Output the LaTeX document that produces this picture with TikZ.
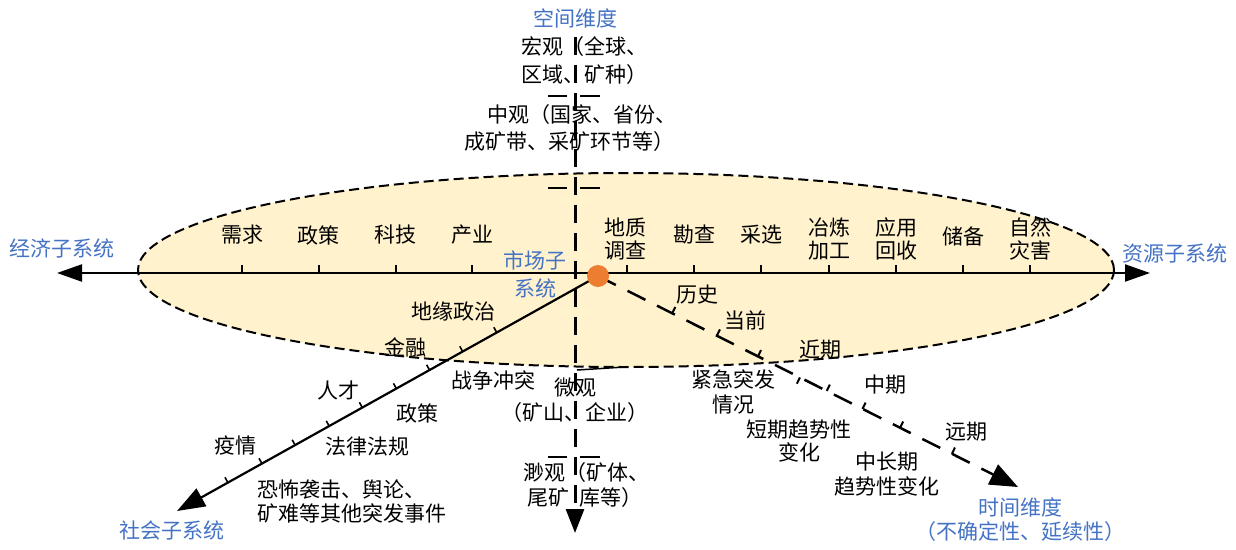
\documentclass[tikz,border=0pt]{standalone}
\usepackage{fontspec}
\setmainfont{Noto Sans CJK SC}
\usetikzlibrary{arrows.meta}
\definecolor{myblue}{HTML}{4472C4}
\definecolor{myorange}{HTML}{ED7D31}
\definecolor{mybeige}{HTML}{FFF2CC}
\begin{document}
\begin{tikzpicture}[x=1pt,y=-1pt,
  lbl/.style={font=\fontsize{21}{23}\selectfont, inner sep=0pt, align=center},
  lblw/.style={lbl, anchor=west},
  blbl/.style={lbl, text=myblue},
  axisline/.style={line width=2.2pt, draw=black},
  vaxis/.style={line width=3pt, dash pattern=on 18pt off 10pt},
  taxis/.style={line width=2.5pt, dash pattern=on 20pt off 13pt},
  ellborder/.style={line width=2pt, dash pattern=on 10pt off 5pt, fill=mybeige, draw=black},
  tickmark/.style={line width=1.6pt},
]
\useasboundingbox (0,0) rectangle (1236,549);

% ellipse
\path[ellborder] (626,270) ellipse [x radius=488pt, y radius=97pt];
\draw[line width=1.5pt] (577,370) -- (625,367);

% coordinates
\coordinate (o) at (598,276);
\coordinate (hL) at (57,273);
\coordinate (hR) at (1150,273);
\coordinate (vTop) at (575,37);
\coordinate (vBot) at (575,533);
\coordinate (sTip) at (177,511);
\coordinate (tTip) at (1018,487);

% horizontal axis
\draw[axisline, {Triangle[length=25pt,width=17pt]}-{Triangle[length=25pt,width=17pt]}] (hL) -- (hR);
\foreach \x in {242,319,396,472,627,694,761,829,896,963,1030}
  \draw[tickmark] (\x,273) -- (\x,265);

% vertical axis
\draw[vaxis, -{Triangle[length=24pt,width=18pt]}] (vTop) -- (vBot);
\foreach \y in {96,188,457} {
  \draw[line width=2pt] (548,\y) -- (567,\y);
  \draw[line width=2pt] (580,\y) -- (600,\y);
}

% social axis (solid)
\draw[axisline, -{Triangle[length=28pt,width=20pt]}] (o) -- (sTip);
\foreach \s in {116,155,193,231,270,308,347,385,424}
  \draw[tickmark] ({598-0.873*\s},{276+0.487*\s}) -- ++(-2.9,-5.2);

% time axis (dashed)
\draw[taxis, -{Triangle[length=28pt,width=22pt]}] (o) -- (tTip);
\foreach \s/\d in {83/1,133/1,179/1,226/-1,256/1,296/1,338/1,396/1}
  \draw[line width=2pt] ({598+0.8936*\s},{276+0.449*\s}) -- ++({3.1*\d},{-6.3*\d});

% centre dot
\node[circle, fill=myorange, minimum size=22pt, inner sep=0pt] (dot) at (o) {};

% blue labels
\node[blbl] (kj) at (575,18) {空间维度};
\node[blbl] (jj) at (62,248) {经济子系统};
\node[blbl] (zy) at (1175,253) {资源子系统};
\node[blbl, font=\fontsize{21}{28}\selectfont] (sc) at (535,274) {市场子\\系统};
\node[blbl] (sh) at (172,530) {社会子系统};
\node[blbl, font=\fontsize{21}{24}\selectfont] (sj) at (1020,520) {时间维度\\（不确定性、延续性）};

% spatial scale labels
\node[lblw] (mac1) at (521,47) {宏观（全球、};
\node[lblw] (mac2) at (521,75) {区域、矿种）};
\node[lblw] (mes1) at (487,115) {中观（国家、省份、};
\node[lblw] (mes2) at (464,142) {成矿带、采矿环节等）};
\node[lbl, font=\fontsize{21}{25}\selectfont] (mic) at (575,400) {微观\\（矿山、企业）};
\node[lblw] (nan1) at (523,473) {渺观（矿体、};
\node[lblw] (nan2) at (527,498) {尾矿\hspace{10pt}库等）};

% economic labels
\node[lbl] (e1) at (242,235) {需求};
\node[lbl] (e2) at (318,235) {政策};
\node[lbl] (e3) at (395,235) {科技};
\node[lbl] (e4) at (472,235) {产业};

% resource labels
\node[lbl] (r1) at (625,239) {地质\\调查};
\node[lbl] (r2) at (694,235) {勘查};
\node[lbl] (r3) at (761,235) {采选};
\node[lbl] (r4) at (829,239) {冶炼\\加工};
\node[lbl] (r5) at (896,239) {应用\\回收};
\node[lbl] (r6) at (963,236) {储备};
\node[lbl] (r7) at (1030,239) {自然\\灾害};

% social labels
\node[lbl] (s1) at (453,312) {地缘政治};
\node[lbl] (s2) at (405,347) {金融};
\node[lbl] (s3) at (493,380) {战争冲突};
\node[lbl] (s4) at (338,390) {人才};
\node[lbl] (s5) at (417,413) {政策};
\node[lbl] (s6) at (235,445) {疫情};
\node[lbl] (s7) at (367,447) {法律法规};
\node[lblw] (s8a) at (257,490) {恐怖袭击、舆论、};
\node[lblw] (s8b) at (257,513) {矿难等其他突发事件};

% time labels
\node[lbl] (t1) at (697,295) {历史};
\node[lbl] (t2) at (745,320) {当前};
\node[lbl] (t3) at (820,350) {近期};
\node[lbl, font=\fontsize{21}{25}\selectfont] (t4) at (733,392) {紧急突发\\情况};
\node[lbl] (t5) at (885,385) {中期};
\node[lbl] (t6) at (799,441) {短期趋势性\\变化};
\node[lbl] (t7) at (966,432) {远期};
\node[lbl, font=\fontsize{21}{25}\selectfont] (t8) at (887,474) {中长期\\趋势性变化};
\end{tikzpicture}
\end{document}
